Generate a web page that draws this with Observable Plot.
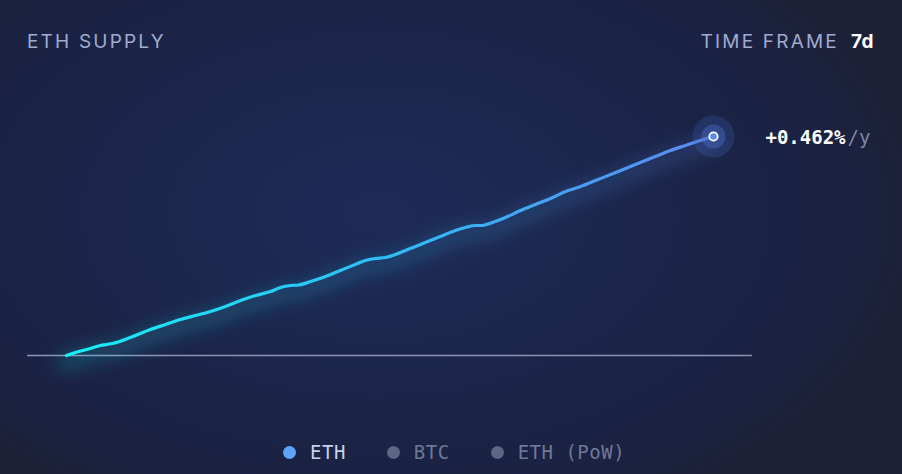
<!DOCTYPE html>
<html>
<head>
<meta charset="utf-8">
<script src="https://cdn.jsdelivr.net/npm/d3@7"></script>
<script src="https://cdn.jsdelivr.net/npm/@observablehq/plot@0.6"></script>
<style>
  html, body { margin: 0; padding: 0; background: #1b2446; }
  #wrap {
    position: relative; width: 902px; height: 474px; overflow: hidden;
    background: radial-gradient(ellipse 60% 70% at 42% 45%, #1e2b58 0%, #1b2549 55%, #1b2242 85%, #1d2137 100%);
    font-family: Inter, "Noto Sans", sans-serif;
  }
  #chart { position: absolute; left: 0; top: 0; }
  .hdr { position: absolute; top: 30px; font-size: 19px; letter-spacing: 2.2px; color: #a0abd2; }
  #title { left: 27px; }
  #tf { right: 28px; }
  #tf b { color: #ffffff; font-weight: 700; margin-left: 12px; letter-spacing: 0.5px; }
  #legend { position: absolute; top: 441px; left: 283px; font-family: "DejaVu Sans Mono", monospace; font-size: 19px; letter-spacing: 0.5px; display: flex; }
  .item { display: flex; align-items: center; margin-right: 41px; }
  .dot { width: 13px; height: 13px; border-radius: 50%; margin-right: 14px; }
</style>
</head>
<body>
<div id="wrap">
  <div id="chart"></div>
  <div class="hdr" id="title">ETH SUPPLY</div>
  <div class="hdr" id="tf">TIME FRAME<b>7d</b></div>
  <div id="legend"></div>
</div>
<script>
// Data: hours into the 7d window, and cumulative ETH supply change (ETH)
const hours = [0, 2.3, 6.2, 8.8, 10.4, 11.9, 16.6, 21.8, 25.7, 29.6, 33.5, 37.4, 41.3, 45.2, 49.1, 53.0, 55.6, 58.2, 60.2, 63.4, 67.3, 71.1, 75.0, 77.6, 80.2, 82.8, 85.4, 89.3, 93.2, 97.1, 101.0, 103.6, 106.2, 108.0, 110.6, 114.0, 117.9, 121.8, 125.7, 129.6, 133.5, 137.4, 141.3, 145.2, 149.0, 152.9, 156.8, 160.7, 164.6, 168];
const supplyDelta = [0, 146, 340, 486, 534, 583, 875, 1263, 1506, 1749, 1943, 2138, 2381, 2672, 2915, 3110, 3304, 3401, 3425, 3595, 3838, 4130, 4421, 4616, 4713, 4761, 4907, 5198, 5490, 5782, 6073, 6219, 6316, 6316, 6462, 6705, 7045, 7336, 7628, 7968, 8211, 8502, 8794, 9085, 9377, 9668, 9960, 10203, 10446, 10640];
const rateLabel = "+0.462%";
const rateUnit = "/y";
const baselineExtent = [-10.1, 178.1];
const legendNames = ["ETH", "BTC", "ETH (PoW)"];
const legendActive = [true, false, false];

const data = hours.map((h, i) => ({h, v: supplyDelta[i]}));
const last = data[data.length - 1];

const chart = Plot.plot({
  width: 902,
  height: 474,
  margin: 0,
  x: {domain: [-17.14, 217.08], axis: null},
  y: {domain: [-5781, 17247], axis: null},
  style: {background: "transparent", overflow: "visible"},
  marks: [
    Plot.ruleY([0], {x1: baselineExtent[0], x2: baselineExtent[1], stroke: "#8d93b3", strokeWidth: 1.6}),
    Plot.line(data, {x: "h", y: "v", stroke: "url(#lineGrad)", strokeWidth: 18, strokeOpacity: 0.18, curve: "monotone-x", className: "glow"}),
    Plot.line(data, {x: "h", y: "v", stroke: "url(#lineGrad)", strokeWidth: 3.2, curve: "monotone-x"}),
    Plot.dot([last], {x: "h", y: "v", r: 21, fill: "#4667c4", fillOpacity: 0.22, stroke: "none"}),
    Plot.dot([last], {x: "h", y: "v", r: 12, fill: "#4d6fd0", fillOpacity: 0.4, stroke: "none"}),
    Plot.dot([last], {x: "h", y: "v", r: 4.2, fill: "#5a8cf0", stroke: "#ffffff", strokeWidth: 1.8}),
    Plot.text([last], {x: "h", y: "v", text: () => rateLabel, dx: 52, dy: 1, textAnchor: "start", fill: "#ffffff", fontSize: 19, fontWeight: 600, fontFamily: "DejaVu Sans Mono, monospace", style: {letterSpacing: "0.9px"}}),
    Plot.text([last], {x: "h", y: "v", text: () => rateUnit, dx: 134, dy: 1, textAnchor: "start", fill: "#7c86a6", fontSize: 19, fontFamily: "DejaVu Sans Mono, monospace", style: {letterSpacing: "0.9px"}})
  ]
});

const svg = d3.select(chart);
const defs = svg.insert("defs", ":first-child");
const xs = chart.scale("x");
const grad = defs.append("linearGradient").attr("id", "lineGrad").attr("gradientUnits", "userSpaceOnUse")
  .attr("x1", xs.apply(0)).attr("x2", xs.apply(168)).attr("y1", 0).attr("y2", 0);
grad.append("stop").attr("offset", "0%").attr("stop-color", "#17f0f7");
grad.append("stop").attr("offset", "45%").attr("stop-color", "#2cc2f6");
grad.append("stop").attr("offset", "100%").attr("stop-color", "#5b88ef");
const blur = defs.append("filter").attr("id", "blur").attr("x", "-20%").attr("y", "-50%").attr("width", "140%").attr("height", "200%");
blur.append("feGaussianBlur").attr("stdDeviation", 8);
svg.selectAll(".glow path").attr("filter", "url(#blur)");
svg.select(".glow").attr("transform", "translate(0,7)");

document.getElementById("chart").appendChild(chart);

const legend = d3.select("#legend");
legendNames.forEach((n, i) => {
  const it = legend.append("div").attr("class", "item");
  it.append("div").attr("class", "dot").style("background", legendActive[i] ? "#5fa4f7" : "#5e6685");
  it.append("div").text(n).style("color", legendActive[i] ? "#c9d0e8" : "#6e7897");
});
</script>
</body>
</html>
